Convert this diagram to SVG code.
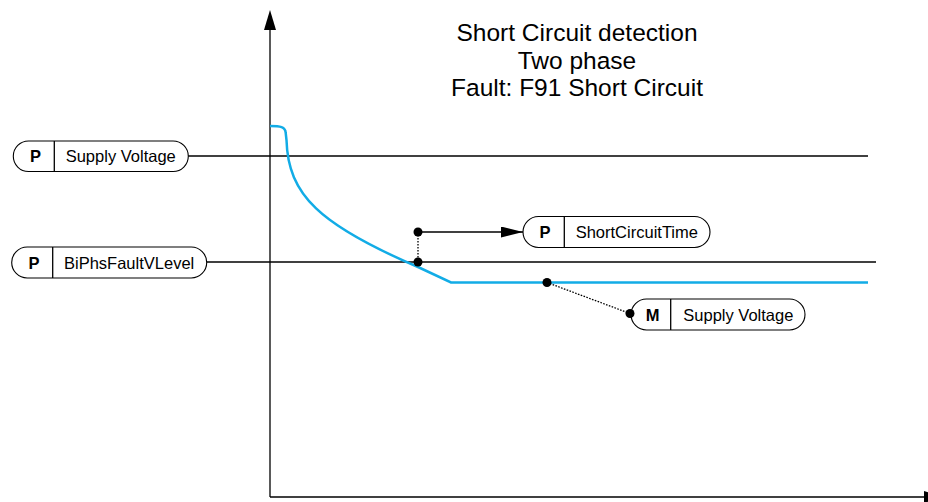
<svg xmlns="http://www.w3.org/2000/svg" width="928" height="502" viewBox="0 0 928 502">
<defs>
<style>
.ln{stroke:#000;stroke-width:1.3;fill:none}
.dot{stroke:#000;stroke-width:1.3;fill:none;stroke-dasharray:1.6 1.4}
.curve{stroke:#12acE6;stroke-width:2.5;fill:none}
.nb{fill:#fff;stroke:#000;stroke-width:1.1}
.t{font-family:"Liberation Sans",Arial,sans-serif;font-size:16.5px;fill:#000}
.tb{font-family:"Liberation Sans",Arial,sans-serif;font-size:16.5px;font-weight:bold;fill:#000;text-anchor:middle}
.title{font-family:"Liberation Sans",Arial,sans-serif;font-size:24.5px;fill:#000;text-anchor:middle}
</style>
<marker id="ah" markerWidth="22" markerHeight="11" refX="22" refY="5.5" orient="auto" markerUnits="userSpaceOnUse">
<path d="M0,0 L22,5.5 L0,11 Z" fill="#000"/>
</marker>
</defs>
<rect width="928" height="502" fill="#fff"/>
<g id="title">
<text class="title" x="577" y="41">Short Circuit detection</text>
<text class="title" x="577" y="68.5">Two phase</text>
<text class="title" x="577" y="96">Fault: F91 Short Circuit</text>
</g>
<g id="connectors">
<line class="ln" x1="270" y1="497" x2="270" y2="28"/>
<path d="M264,30 L270,10 L276,30 Z" fill="#000"/>
<line class="ln" x1="270" y1="497" x2="926" y2="497"/>
<path d="M924,491 L944,497 L924,503 Z" fill="#000"/>
<line class="ln" x1="188" y1="156" x2="868" y2="156"/>
<line class="ln" x1="207" y1="262" x2="876" y2="262"/>
<path class="curve" d="M270,126 C280,126 285.5,126.5 285.7,133 L286.5,140 C288,195 320,225 418,267 L451,282.5 L868,282.5"/>
<line class="dot" x1="418" y1="232" x2="418" y2="262"/>
<line class="ln" x1="418" y1="232" x2="523" y2="232" marker-end="url(#ah)"/>
<line class="dot" x1="547" y1="282.5" x2="630" y2="313.5"/>
<circle cx="418" cy="232" r="4.5" fill="#000"/>
<circle cx="418" cy="262" r="4.5" fill="#000"/>
<circle cx="547" cy="282.5" r="4.5" fill="#000"/>
</g>
<g id="node-supply-voltage">
<rect class="nb" x="13.3" y="141" width="175" height="30.5" rx="15.25"/>
<line class="ln" x1="54.3" y1="141" x2="54.3" y2="171.5" stroke-width="1"/>
<text class="tb" x="35.5" y="162">P</text>
<text class="t" x="65.7" y="162">Supply Voltage</text>
</g>
<g id="node-biphs">
<rect class="nb" x="11.7" y="247" width="195" height="31" rx="15.5"/>
<line class="ln" x1="52.7" y1="247" x2="52.7" y2="278" stroke-width="1"/>
<text class="tb" x="34" y="268.5">P</text>
<text class="t" x="64" y="268.5">BiPhsFaultVLevel</text>
</g>
<g id="node-shortcircuittime">
<rect class="nb" x="523" y="216.5" width="187" height="31" rx="15.5"/>
<line class="ln" x1="564.3" y1="216.5" x2="564.3" y2="247.5" stroke-width="1"/>
<text class="tb" x="545" y="238">P</text>
<text class="t" x="575.7" y="238">ShortCircuitTime</text>
</g>
<g id="node-m-supply-voltage">
<rect class="nb" x="631" y="299" width="174" height="31" rx="15.5"/>
<line class="ln" x1="670.7" y1="299" x2="670.7" y2="330" stroke-width="1"/>
<text class="tb" x="652.5" y="320.5">M</text>
<text class="t" x="683.3" y="320.5">Supply Voltage</text>
</g>
<circle cx="630" cy="313.5" r="4.5" fill="#000"/>
</svg>
